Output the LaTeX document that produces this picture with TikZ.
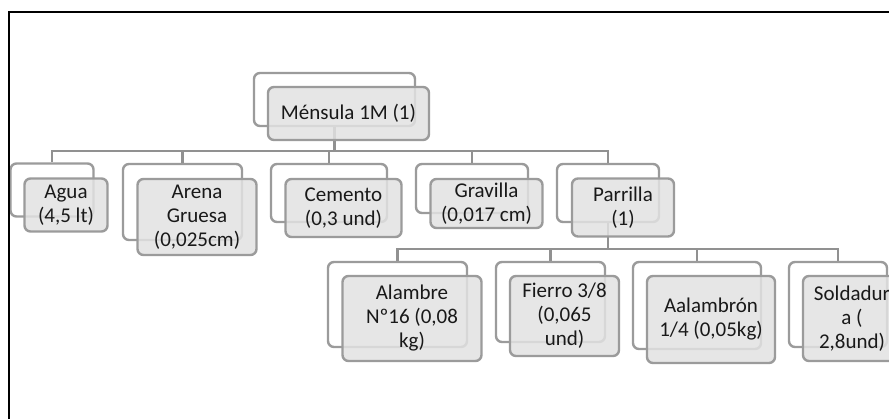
\documentclass[tikz,border=0pt]{standalone}
\usepackage{fontspec}
\setmainfont{Carlito}
\definecolor{boxline}{RGB}{155,155,155}
\definecolor{boxfill}{RGB}{226,226,226}
\definecolor{linkgray}{RGB}{145,145,145}
\begin{document}
\begin{tikzpicture}[x=0.5pt,y=-0.5pt,
  back/.style={draw=boxline, line width=1.2pt, rounded corners=3pt, fill=white, inner sep=0pt},
  front/.style={draw=boxline, line width=1.2pt, rounded corners=3pt, fill=boxfill, fill opacity=0.85, text opacity=1, inner sep=0pt, align=center, font=\fontsize{10.5}{12}\selectfont, text=black!90},
  link/.style={draw=linkgray, line width=1.2pt}]
\useasboundingbox (0,0) rectangle (889,419);
\clip (0,0) rectangle (889,419);
% back frames
\node[back, minimum width=80.5pt, minimum height=26.5pt] (mensulab) at (334.5,99.5) {};
\node[back, minimum width=41.5pt, minimum height=26.5pt] (aguab) at (52,190) {};
\node[back, minimum width=59.5pt, minimum height=38pt] (arenab) at (182.5,202) {};
\node[back, minimum width=58pt, minimum height=29pt] (cementob) at (329,193) {};
\node[back, minimum width=56pt, minimum height=24.5pt] (gravillab) at (472,188.5) {};
\node[back, minimum width=51pt, minimum height=29pt] (parrillab) at (608,193) {};
\node[back, minimum width=69.5pt, minimum height=42.5pt] (alambreb) at (397.5,304.5) {};
\node[back, minimum width=54.5pt, minimum height=40pt] (fierrob) at (550.5,302) {};
\node[back, minimum width=64pt, minimum height=43.5pt] (aalambronb) at (697,305.5) {};
\node[back, minimum width=49pt, minimum height=42.5pt] (soldadurab) at (838,304.5) {};

% connectors
\coordinate (bus1) at (0,151);
\coordinate (bus2) at (0,249);
\foreach \child in {aguab,arenab,cementob,gravillab,parrillab}
  \draw[link] (mensulab.south) -- (mensulab.south |- bus1) -| (\child.north);
\foreach \child in {alambreb,fierrob,aalambronb,soldadurab}
  \draw[link] (parrillab.south) -- (parrillab.south |- bus2) -| (\child.north);

% front boxes
\node[front, minimum width=80.5pt, minimum height=26.5pt] (mensula) at (348.5,113.5) {Ménsula 1M (1)};
\node[front, minimum width=41.5pt, minimum height=26.5pt] (agua) at (66,205) {Agua\\(4,5 lt)};
\node[front, minimum width=59.5pt, minimum height=38pt] (arena) at (197,217) {Arena\\Gruesa\\(0,025cm)};
\node[front, minimum width=58pt, minimum height=29pt] (cemento) at (343.5,208) {Cemento\\(0,3 und)};
\node[front, minimum width=56pt, minimum height=24.5pt] (gravilla) at (486.5,203.5) {Gravilla\\(0,017 cm)};
\node[front, minimum width=51pt, minimum height=29pt] (parrilla) at (623,207.5) {Parrilla\\(1)};
\node[front, minimum width=69.5pt, minimum height=42.5pt] (alambre) at (412,318.5) {Alambre\\Nº16 (0,08\\kg)};
\node[front, minimum width=54.5pt, minimum height=40pt] (fierro) at (564.5,316) {Fierro 3/8\\(0,065\\und)};
\node[front, minimum width=64pt, minimum height=43.5pt] (aalambron) at (711,319.5) {Aalambrón\\1/4 (0,05kg)};
\node[front, minimum width=49pt, minimum height=42.5pt] (soldadura) at (852,318.5) {Soldadur\\a (\\2,8und)};

% outer frame
\draw[line width=1pt] (9,419) -- (9,12) -- (889,12);
\end{tikzpicture}
\end{document}
